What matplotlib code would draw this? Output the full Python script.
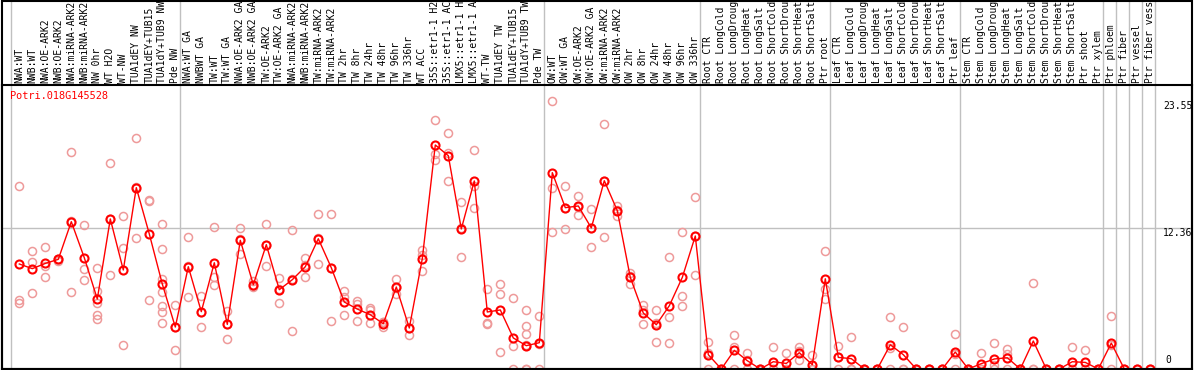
import matplotlib
matplotlib.use("Agg")
import matplotlib.pyplot as plt
import matplotlib.patches as patches
import matplotlib.transforms as mtransforms

# Figure constants (pixels at dpi 100)
W, H = 1194, 370
DPI = 100
LABEL_FONT = 7.0

gene_name = "Potri.018G145528"

# sample names as they show in the label strip (long ones are cut there)
sample_labels = [
    "NWA:WT", "NWB:WT", "NWA:OE-ARK2", "NWB:OE-ARK2", "NWA:miRNA-ARK2",
    "NWB:miRNA-ARK2", "NW 0hr", "WT H2O", "WT-NW", "TUA1dEY NW",
    "TUA1dEY+TUB15", "TUA1dY+TUB9 NW", "Pde NW",
    "NWA:WT GA", "NWBWT GA", "TW:WT", "TW:WT GA", "NWA:OE-ARK2 GA",
    "NWB:OE-ARK2 GA", "TW:OE-ARK2", "TW:OE-ARK2 GA", "NWA:miRNA-ARK2",
    "NWB:miRNA-ARK2", "TW:miRNA-ARK2", "TW:miRNA-ARK2", "TW 2hr", "TW 8hr",
    "TW 24hr", "TW 48hr", "TW 96hr", "TW 336hr", "WT ACC",
    "35S::etr1-1 H2", "35S::etr1-1 AC", "LMX5::etr1-1 H",
    "LMX5::etr1-1 A", "WT-TW", "TUA1dEY TW", "TUA1dEY+TUB15",
    "TUA1dY+TUB9 TW", "Pde TW",
    "OW:WT", "OW:WT GA", "OW:OE-ARK2", "OW:OE-ARK2 GA", "OW:miRNA-ARK2",
    "OW:miRNA-ARK2", "OW 2hr", "OW 8hr", "OW 24hr", "OW 48hr", "OW 96hr",
    "OW 336hr",
    "Root CTR", "Root LongCold", "Root LongDroug", "Root LongHeat",
    "Root LongSalt", "Root ShortCold", "Root ShortDrou", "Root ShortHeat",
    "Root ShortSalt", "Ptr root",
    "Leaf CTR", "Leaf LongCold", "Leaf LongDroug", "Leaf LongHeat",
    "Leaf LongSalt", "Leaf ShortCold", "Leaf ShortDrou", "Leaf ShortHeat",
    "Leaf ShortSalt", "Ptr leaf",
    "Stem CTR", "Stem LongCold", "Stem LongDroug", "Stem LongHeat",
    "Stem LongSalt", "Stem ShortCold", "Stem ShortDrou", "Stem ShortHeat",
    "Stem ShortSalt", "Ptr shoot", "Ptr xylem",
    "Ptr phloem", "Ptr fiber", "Ptr vessel", "Ptr fiber vess",
]

# mean expression per sample (red line)
mean_values = [
    9.23, 8.82, 9.28, 9.64, 12.95, 9.78, 6.15, 13.19, 8.70, 15.94,
    11.87, 7.47, 3.69, 8.99, 5.04, 9.34, 3.92, 11.31, 7.41, 10.93,
    6.97, 7.85, 8.99, 11.45, 8.90, 5.89, 5.27, 4.77, 3.98, 7.21,
    3.60, 9.70, 19.69, 18.75, 12.31, 16.53, 5.01, 5.19, 2.73, 2.05,
    2.31, 17.26, 14.18, 14.33, 12.40, 16.55, 13.92, 8.05, 4.92, 3.89,
    5.56, 8.05, 11.69, 1.26, 0, 1.64, 0.73, 0, 0.64, 0.49,
    1.43, 0.38, 7.93, 1.02, 0.91, 0, 0, 2.13, 1.26, 0,
    0, 0, 1.49, 0, 0.47, 0.88, 0.99, 0, 2.46, 0,
    0, 0.64, 0.58, 0, 2.28, 0, 0, 0,
]

# individual replicates (faint circles)
replicates = [
    [16.11, 6.03, 5.80], [10.40, 9.37, 6.68], [10.75, 9.02, 8.11],
    [9.5, 9.7, 9.7], [19.10, 12.98, 6.77], [12.69, 8.79, 7.85],
    [8.90, 6.88, 5.80, 4.77, 4.42], [18.14, 13.17, 8.26],
    [13.48, 10.66, 2.14], [20.33, 15.97, 11.52], [14.86, 14.73, 6.09],
    [12.77, 10.58, 7.88, 6.80, 5.51, 4.98, 4.07], [5.65, 3.72, 1.70],
    [11.60, 9.01, 6.36], [6.44, 4.99, 3.69], [12.48, 8.09, 7.41],
    [5.13, 3.97, 2.66], [12.40, 11.39, 10.14], [7.76, 7.26, 7.21],
    [12.77, 10.94, 9.08], [8.03, 7.05, 5.83], [12.25, 7.93, 3.37],
    [9.76, 9.12, 8.09], [13.63, 11.49, 9.23], [13.63, 8.85, 4.22],
    [6.82, 6.33, 4.77], [5.94, 5.74, 4.22], [5.36, 5.15, 4.07],
    [4.15, 4.13, 3.66], [7.91, 7.13, 6.59], [4.18, 3.63, 2.99],
    [10.43, 10.05, 8.64], [21.92, 18.90, 18.37], [20.75, 18.97, 16.53],
    [14.71, 12.37, 9.85], [19.28, 16.05, 14.15], [7.06, 4.04, 3.98],
    [7.47, 6.59, 1.49], [6.24, 2.05, 0], [5.19, 3.78, 3.08, 2.14, 0, 0],
    [4.69, 2.24, 0], [23.55, 15.91, 12.04], [16.11, 14.12, 12.31],
    [15.17, 14.27, 13.56], [14.07, 12.41, 10.72], [21.51, 16.54, 11.60],
    [14.36, 13.95, 13.45], [8.47, 8.21, 7.47], [5.59, 5.19, 3.98],
    [5.19, 4.08, 2.40], [9.86, 4.59, 2.31], [12.05, 6.44, 5.56],
    [15.13, 11.68, 8.26], [2.40, 1.38, 0], [0, 0, 0], [3.02, 1.93, 0],
    [1.37, 0.82, 0], [0, 0, 0], [1.96, 0, 0], [1.43, 0, 0],
    [1.93, 1.54, 0.82], [1.20, 0, 0], [10.40, 7.06, 6.18], [1.99, 1.07, 0],
    [2.84, 0, 0], [0, 0, 0], [0, 0, 0], [4.59, 1.85, 0], [3.69, 0, 0],
    [0, 0, 0], [0, 0, 0], [0, 0, 0], [3.07, 1.32, 0], [0, 0, 0],
    [1.40, 0, 0], [2.28, 0.38, 0], [1.76, 1.32, 0], [0, 0, 0],
    [7.56, 0, 0], [0, 0, 0], [0, 0, 0], [1.93, 0, 0], [1.67, 0, 0],
    [0, 0, 0], [4.68, 2.07, 0], [0, 0], [0, 0], [0, 0],
]

# index of the first sample of each group (gray separators)
group_starts = [0, 13, 41, 53, 63, 73, 84, 85, 86, 87, 88]
y_ticks = [0, 12.36, 23.55]
y_top = 23.55 * 1.06

fig = plt.figure(figsize=(W / DPI, H / DPI), dpi=DPI)
ax = fig.add_axes([1.5 / W, 1 / H, 1190.5 / W, 284 / H])

xs = list(range(len(sample_labels)))
px_per_unit = 13.0
x0 = -(19.3 - 1.5) / px_per_unit
ax.set_xlim(x0, x0 + 1190.5 / px_per_unit)
ax.set_ylim(0, y_top)

grid_col = "#c0c0c0"
label_ext = 1 + 85 / 284
for g in group_starts:
    ax.axvline(g - 0.64, ymin=0, ymax=label_ext, color=grid_col, lw=1.0,
               clip_on=False, zorder=1)
ax.axhline(y_ticks[1], color=grid_col, lw=1.0, zorder=1)

# replicates
rx, ry = [], []
for i, reps in enumerate(replicates):
    for v in reps:
        rx.append(i)
        ry.append(v)
ax.plot(rx, ry, "o", ms=5.8, mfc="none", mec="#ee9a9a", mew=1.1, zorder=2)

# mean line
ax.plot(xs, mean_values, "-o", color="#ff0000", lw=1.0, ms=5.8,
        mfc="none", mec="#ff0000", mew=1.5, zorder=3)

# sample labels above the plot
trans = mtransforms.blended_transform_factory(ax.transData, ax.transAxes)
for i, lab in enumerate(sample_labels):
    ax.text(i, 1 + 2 / 284, lab, transform=trans, rotation=90,
            ha="center", va="bottom", fontsize=LABEL_FONT,
            family="DejaVu Sans Mono", color="black", clip_on=False)

# gene name
ax.text((10 - 1.5) / 1190.5, 1 - 6 / 284, gene_name, transform=ax.transAxes,
        ha="left", va="top", fontsize=7.4, family="DejaVu Sans Mono",
        color="#ff0000")

# value labels on the right
ytrans = mtransforms.blended_transform_factory(ax.transAxes, ax.transData)
tx = (1163 - 1.5) / 1190.5
ax.text(tx, y_ticks[2], "23.55", transform=ytrans, ha="left", va="top",
        fontsize=LABEL_FONT, family="DejaVu Sans Mono")
ax.text(tx, y_ticks[1], "12.36", transform=ytrans, ha="left", va="top",
        fontsize=LABEL_FONT, family="DejaVu Sans Mono")
ax.text(tx + 2 / 1190.5, 0.35, "0", transform=ytrans, ha="left",
        va="bottom", fontsize=LABEL_FONT, family="DejaVu Sans Mono")

ax.set_xticks([])
ax.set_yticks([])
for s in ax.spines.values():
    s.set_color("black")
    s.set_linewidth(1.5)

# outer frame around plot + label strip
fig.add_artist(patches.Rectangle((1.5 / W, 1 / H), 1190.5 / W, 368.5 / H,
                                 transform=fig.transFigure, fill=False,
                                 edgecolor="black", lw=1.5))

fig.savefig("out.png", dpi=DPI)
